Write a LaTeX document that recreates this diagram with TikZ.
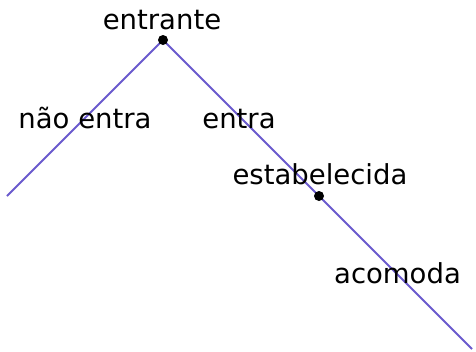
\documentclass[tikz,border=0pt]{standalone}
\usepackage{fontspec}
\setmainfont{DejaVu Sans}
\definecolor{edgecol}{RGB}{106,90,205}
\begin{document}
\begin{tikzpicture}[x=1pt,y=-1pt,
  edge/.style={draw=edgecol,line width=1.8pt},
  dot/.style={circle,fill=black,inner sep=0pt,minimum size=10pt},
  lbl/.style={anchor=base,inner sep=0pt,font=\fontsize{27.5}{31}\selectfont}]
\useasboundingbox (0,0) rectangle (476,351);
\coordinate (r) at (163,40);
\coordinate (m) at (319,196);
\coordinate (l) at (7,196);
\coordinate (e) at (472,349);
\draw[edge] (r) -- (l);
\draw[edge] (r) -- (m) -- (e);
\node[dot] (rdot) at (r) {};
\node[dot] (mdot) at (m) {};
\node[lbl] (t1) at (162,29) {entrante};
\node[lbl] (t2) at (85,128) {não entra};
\node[lbl] (t3) at (239,128) {entra};
\node[lbl] (t4) at (320,184) {estabelecida};
\node[lbl] (t5) at (397.5,283) {acomoda};
\end{tikzpicture}
\end{document}
